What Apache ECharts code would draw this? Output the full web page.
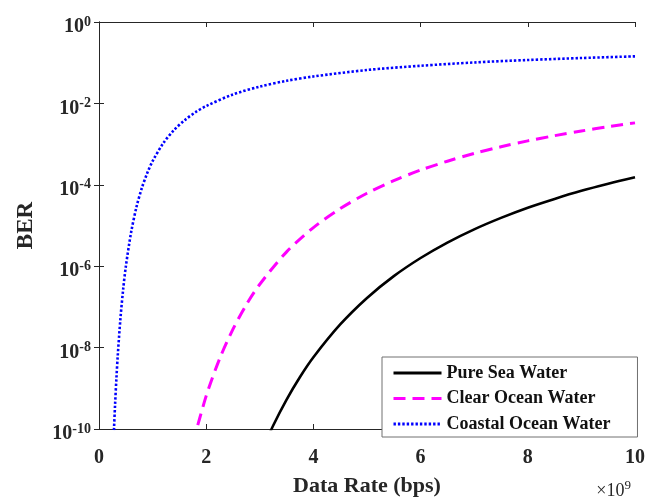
<!DOCTYPE html>
<html>
<head>
<meta charset="utf-8">
<script src="https://cdn.jsdelivr.net/npm/echarts@6/dist/echarts.min.js"></script>
<style>
  html, body { margin: 0; padding: 0; background: #fff; }
  #chart { width: 662px; height: 502px; }
</style>
</head>
<body>
<div id="chart"></div>
<script>
// Data rate in units of 1e9 bps, BER on a log scale
const pureRate = [3.0, 3.25, 3.5, 3.75, 4, 4.5, 5, 5.5, 6, 6.5, 7, 7.5, 8, 8.5, 9, 9.5, 10];
const pureBER = [2.2e-11, 1.22e-10, 5.3e-10, 1.9e-9, 5.8e-9, 3.7e-8, 1.66e-7, 5.7e-7, 1.59e-6, 3.81e-6,
                 8.05e-6, 1.54e-5, 2.74e-5, 4.5e-5, 7.1e-5, 1.06e-4, 1.53e-4];

const clearRate = [1.75, 2, 2.25, 2.5, 2.75, 3, 3.5, 4, 4.5, 5, 5.5, 6, 6.5, 7, 7.5, 8, 8.5, 9, 9.5, 10];
const clearBER = [4.4e-11, 6.5e-10, 5.3e-9, 2.84e-8, 1.14e-7, 3.6e-7, 2.25e-6, 8.9e-6, 2.6e-5, 6.2e-5,
                  1.26e-4, 2.3e-4, 3.8e-4, 5.9e-4, 8.6e-4, 1.2e-3, 1.61e-3, 2.1e-3, 2.67e-3, 3.32e-3];

const coastalRate = [0.26, 0.28, 0.3, 0.325, 0.35, 0.4, 0.45, 0.5, 0.6, 0.7, 0.8, 0.9, 1.0, 1.2, 1.4,
                     1.6, 1.8, 2.0, 2.5, 3, 3.5, 4, 5, 6, 7, 8, 9, 10];
const coastalBER = [2.1e-11, 1.0e-10, 4.0e-10, 1.77e-9, 6.4e-9, 5.2e-8, 2.64e-7, 9.7e-7, 6.9e-6, 2.88e-5,
                    8.4e-5, 1.94e-4, 3.8e-4, 1.06e-3, 2.21e-3, 3.88e-3, 6.07e-3, 8.6e-3, 1.66e-2, 2.59e-2,
                    3.59e-2, 4.59e-2, 6.62e-2, 8.4e-2, 0.1014, 0.1165, 0.1303, 0.1432];

const seriesNames = ['Pure Sea Water', 'Clear Ocean Water', 'Coastal Ocean Water'];
const xTicks = [0, 2, 4, 6, 8, 10];

const FONT = 'Liberation Serif';
const AXIS_COLOR = '#262626';

function pairs(xs, ys) { return xs.map((x, i) => [x, ys[i]]); }

const chart = echarts.init(document.getElementById('chart'), null, { renderer: 'canvas' });

// Mirror axes on the top and right close the box; ticks only, no labels
const mirrorAxis = {
  axisLine: { show: true, lineStyle: { color: AXIS_COLOR, width: 1 } },
  axisTick: { show: true, inside: true, length: 5, lineStyle: { color: AXIS_COLOR } },
  axisLabel: { show: false },
  splitLine: { show: false }
};

chart.setOption({
  animation: false,
  backgroundColor: '#ffffff',
  grid: { left: 99, top: 22, right: 27, bottom: 65, containLabel: false },
  xAxis: [
    {
      type: 'value', min: xTicks[0], max: xTicks[xTicks.length - 1], interval: 2,
      position: 'bottom',
      name: 'Data Rate (bps)', nameLocation: 'middle', nameGap: 46,
      nameTextStyle: { fontFamily: FONT, fontWeight: 'bold', fontSize: 22, color: '#262626' },
      axisLine: { show: true, onZero: false, lineStyle: { color: AXIS_COLOR, width: 1 } },
      axisTick: { show: true, inside: true, length: 5, lineStyle: { color: AXIS_COLOR } },
      axisLabel: { fontFamily: FONT, fontWeight: 'bold', fontSize: 20, color: '#262626', margin: 19 },
      splitLine: { show: false }
    },
    Object.assign({ type: 'value', min: 0, max: 10, interval: 2, position: 'top' }, mirrorAxis)
  ],
  yAxis: [
    {
      type: 'log', logBase: 10, min: 1e-10, max: 1, interval: 2,
      position: 'left',
      name: 'BER', nameLocation: 'middle', nameGap: 61, nameRotate: 90,
      nameTextStyle: { fontFamily: FONT, fontWeight: 'bold', fontSize: 23, color: '#262626' },
      axisLine: { show: true, onZero: false, lineStyle: { color: AXIS_COLOR, width: 1 } },
      axisTick: { show: true, inside: true, length: 5, lineStyle: { color: AXIS_COLOR } },
      axisLabel: {
        margin: 8,
        padding: [10, 0, 0, 0],
        formatter: function (v) {
          const e = Math.round(Math.log10(v));
          return '{b|10}{s|' + e + '}';
        },
        rich: {
          b: { fontFamily: FONT, fontWeight: 'bold', fontSize: 20, color: '#262626' },
          s: { fontFamily: FONT, fontWeight: 'bold', fontSize: 14, color: '#262626', padding: [0, 0, 10, 0] }
        }
      },
      splitLine: { show: false },
      minorTick: { show: false }
    },
    Object.assign({ type: 'log', logBase: 10, min: 1e-10, max: 1, interval: 2, position: 'right' }, mirrorAxis)
  ],
  legend: {
    orient: 'vertical',
    left: 382, top: 357,
    padding: [7, 27, 4, 10],
    itemGap: 7.5,
    itemWidth: 48, itemHeight: 14,
    backgroundColor: '#ffffff',
    borderColor: '#707070', borderWidth: 1,
    itemStyle: { opacity: 0 },
    lineStyle: { width: 3 },
    textStyle: { fontFamily: FONT, fontWeight: 'bold', fontSize: 18, color: '#111111' },
    data: seriesNames
  },
  graphic: [{
    type: 'text', right: 31, top: 479,
    style: {
      text: '×10{s|9}',
      font: '18px ' + FONT,
      fill: '#262626',
      rich: { s: { fontFamily: FONT, fontSize: 13, fill: '#262626', padding: [0, 0, 11, 0] } }
    }
  }],
  series: [
    {
      name: seriesNames[0], type: 'line', data: pairs(pureRate, pureBER),
      showSymbol: false, symbol: 'none', smooth: 0.3, clip: true,
      lineStyle: { color: '#000000', width: 2.6, type: 'solid' },
      itemStyle: { color: '#000000' }
    },
    {
      name: seriesNames[1], type: 'line', data: pairs(clearRate, clearBER),
      showSymbol: false, symbol: 'none', smooth: 0.3, clip: true,
      lineStyle: { color: '#ff00ff', width: 3, type: [12, 7] },
      itemStyle: { color: '#ff00ff' }
    },
    {
      name: seriesNames[2], type: 'line', data: pairs(coastalRate, coastalBER),
      showSymbol: false, symbol: 'none', smooth: 0.3, clip: true,
      lineStyle: { color: '#0000ff', width: 2.6, type: [2.4, 2] },
      itemStyle: { color: '#0000ff' }
    }
  ]
});
</script>
</body>
</html>
